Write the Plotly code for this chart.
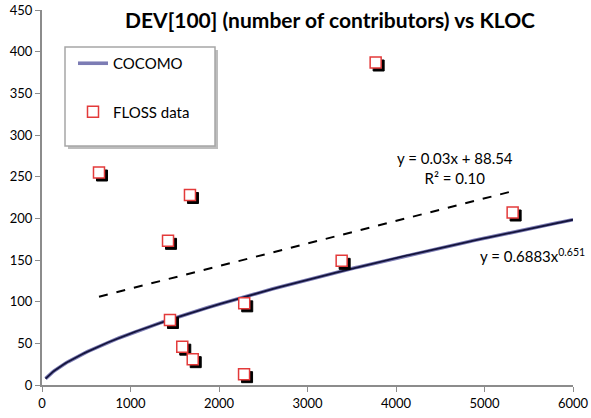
import numpy as np
import plotly.graph_objects as go

# Data
kloc = [644, 1672, 1424, 1446, 1585, 1703, 2285, 2283, 3386, 5318, 3770]
dev = [255, 228, 173, 78, 46, 31, 98, 13, 149, 207, 387]

x_ticks = [0, 1000, 2000, 3000, 4000, 5000, 6000]
y_ticks = [0, 50, 100, 150, 200, 250, 300, 350, 400, 450]

coef_a, coef_b = 0.6883, 0.651
trend_label = "y = 0.03x + 88.54<br>R² = 0.10"

W, H = 591, 418
ml, mr, mt, mb = 42, 18, 10, 33
xr = [0, 6000]
yr = [0, 450]
pw, ph = W - ml - mr, H - mt - mb
px_x = pw / (xr[1] - xr[0])
px_y = ph / (yr[1] - yr[0])
sh = 3  # shadow offset in px


def pxx(p):
    return (p - ml) / pw


def pxy(p):
    return 1 - (p - mt) / ph


fig = go.Figure()

# COCOMO curve
cx = np.linspace(40, 6000, 300)
cy = coef_a * cx ** coef_b
fig.add_trace(go.Scatter(x=cx, y=cy, mode="lines", name="COCOMO",
                         line=dict(color="#7C7CB4", width=3.6),
                         legendgroup="a"))
fig.add_trace(go.Scatter(x=cx, y=cy, mode="lines", showlegend=False,
                         line=dict(color="#14143C", width=1.8),
                         hoverinfo="skip"))

# Linear trendline (least squares fit of the data)
lin_m, lin_c = np.polyfit(kloc, dev, 1)
tx = np.array([min(kloc), max(kloc)])
fig.add_trace(go.Scatter(x=tx, y=lin_m * tx + lin_c, mode="lines", showlegend=False,
                         line=dict(color="black", width=2, dash="dash")))

# Shadows
sx = [v + sh / px_x for v in kloc]
sy = [v - sh / px_y for v in dev]
fig.add_trace(go.Scatter(x=sx, y=sy, mode="markers", showlegend=False,
                         marker=dict(symbol="square", size=11, color="black",
                                     line=dict(color="black", width=1)),
                         hoverinfo="skip"))
# FLOSS data
fig.add_trace(go.Scatter(x=kloc, y=dev, mode="markers", name="FLOSS data",
                         marker=dict(symbol="square", size=11, color="white",
                                     line=dict(color="#E33A3A", width=1.5)),
                         legendgroup="b"))

# legend box with shadow
fig.add_shape(type="rect", xref="paper", yref="paper",
              x0=pxx(68), x1=pxx(218), y0=pxy(149), y1=pxy(50),
              fillcolor="#BDBDBD", line=dict(width=0), layer="above")
fig.add_shape(type="rect", xref="paper", yref="paper",
              x0=pxx(65), x1=pxx(215), y0=pxy(146), y1=pxy(47),
              fillcolor="white", line=dict(width=1.5, color="#A6A6A6"), layer="above")

font = "Lato, 'Open Sans', sans-serif"

fig.add_annotation(text="<b>DEV[100] (number of contributors) vs KLOC</b>",
                   xref="paper", yref="paper", x=pxx(330), y=pxy(20),
                   xanchor="center", yanchor="middle",
                   showarrow=False, font=dict(size=21, color="black", family=font))
fig.add_annotation(text=trend_label, x=4667, y=260,
                   xanchor="center", yanchor="middle",
                   showarrow=False, align="center",
                   font=dict(size=15, color="black", family=font))
fig.add_annotation(text=f"y = {coef_a}x<sup>{coef_b}</sup>", x=5537, y=155,
                   xanchor="center", yanchor="middle",
                   showarrow=False, font=dict(size=15, color="black", family=font))

fig.update_layout(
    width=W, height=H,
    margin=dict(l=ml, r=mr, t=mt, b=mb, autoexpand=False),
    paper_bgcolor="white", plot_bgcolor="white",
    font=dict(family=font, size=13, color="black"),
    showlegend=True,
    legend=dict(x=pxx(73), y=pxy(47), xanchor="left", yanchor="top",
                bgcolor="rgba(0,0,0,0)", borderwidth=0,
                font=dict(size=15, family=font),
                tracegroupgap=26, itemwidth=30),
    xaxis=dict(range=xr, tickvals=x_ticks, showgrid=False, zeroline=False,
               showline=True, linecolor="#8C8C8C", linewidth=2, automargin=False,
               ticks="outside", ticklen=5, tickcolor="#8C8C8C", tickwidth=1,
               tickfont=dict(size=13)),
    yaxis=dict(range=yr, tickvals=y_ticks, showgrid=False, zeroline=False,
               showline=True, linecolor="#8C8C8C", linewidth=2, automargin=False,
               ticks="outside", ticklen=5, tickcolor="#8C8C8C", tickwidth=1,
               tickfont=dict(size=13)),
)

fig.write_html("out.html", config={"displayModeBar": False})

# remove the browser's default page margin so the figure sits at (0, 0)
with open("out.html", encoding="utf-8") as f:
    html = f.read()
html = html.replace("<head>", "<head><style>html,body{margin:0;padding:0;overflow:hidden;}</style>", 1)
with open("out.html", "w", encoding="utf-8") as f:
    f.write(html)
